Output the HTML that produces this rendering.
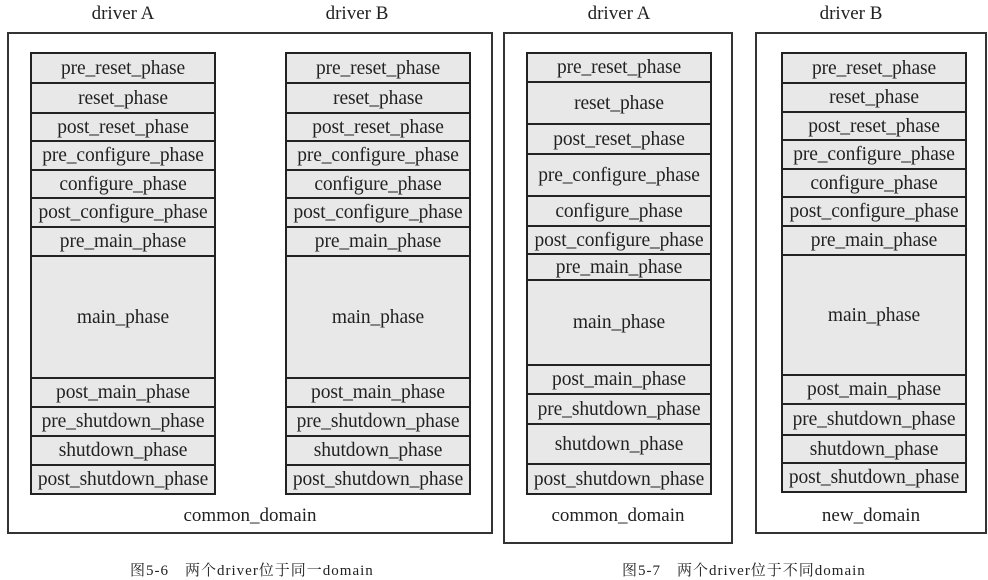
<!DOCTYPE html>
<html><head><meta charset="utf-8"><style>
body{margin:0;background:#fff;width:988px;height:579px;overflow:hidden;position:relative;font-family:"Liberation Serif","Noto Serif CJK SC",serif;color:#222}
.o{position:absolute;border:2px solid #333;box-sizing:border-box}
.c{position:absolute;background:#e8e8e8;border:2px solid #222;box-sizing:border-box;display:flex;align-items:center;justify-content:center;font-size:19.5px;white-space:nowrap;letter-spacing:-0.1px;padding-top:1px}
.t{position:absolute;font-size:19px;text-align:center;white-space:nowrap}
.cap{position:absolute;font-size:15px;top:559px;white-space:nowrap;letter-spacing:1px}
</style></head><body>
<div class="o" style="left:7px;top:32px;width:486px;height:502px"></div>
<div class="o" style="left:503px;top:32px;width:230px;height:512px"></div>
<div class="o" style="left:755px;top:32px;width:232px;height:502px"></div>
<div class="t" style="left:30px;width:186px;top:3px">driver A</div>
<div class="t" style="left:264px;width:186px;top:3px">driver B</div>
<div class="t" style="left:526px;width:186px;top:3px">driver A</div>
<div class="t" style="left:758px;width:186px;top:3px">driver B</div>
<div class="t" style="left:7px;width:486px;top:505px">common_domain</div>
<div class="t" style="left:503px;width:230px;top:505px">common_domain</div>
<div class="t" style="left:755px;width:232px;top:505px">new_domain</div>
<div class="cap" style="left:130px">图5-6　两个driver位于同一domain</div>
<div class="cap" style="left:622px">图5-7　两个driver位于不同domain</div>
<script>
const phases=["pre_reset_phase","reset_phase","post_reset_phase","pre_configure_phase","configure_phase","post_configure_phase","pre_main_phase","main_phase","post_main_phase","pre_shutdown_phase","shutdown_phase","post_shutdown_phase"];
const colA=[52,82,112,140,169,197,226,255,377,406,435,464,493];
const colC=[52,81,123,153,195,225,253,279,364,393,423,463,493];
const colD=[52,82,111,139,168,196,225,254,374,403,434,462,491];
const cols=[{x:30,b:colA},{x:285,b:colA},{x:526,b:colC},{x:781,b:colD}];
cols.forEach((c,ci)=>{
  for(let i=0;i<phases.length;i++){
    const d=document.createElement('div');
    d.className='c';
    
    
    d.style.left=c.x+'px';d.style.width='186px';
    d.style.top=c.b[i]+'px';d.style.height=(c.b[i+1]-c.b[i]+2)+'px';
    d.textContent=phases[i];
    document.body.appendChild(d);
  }
});
</script>
</body></html>
